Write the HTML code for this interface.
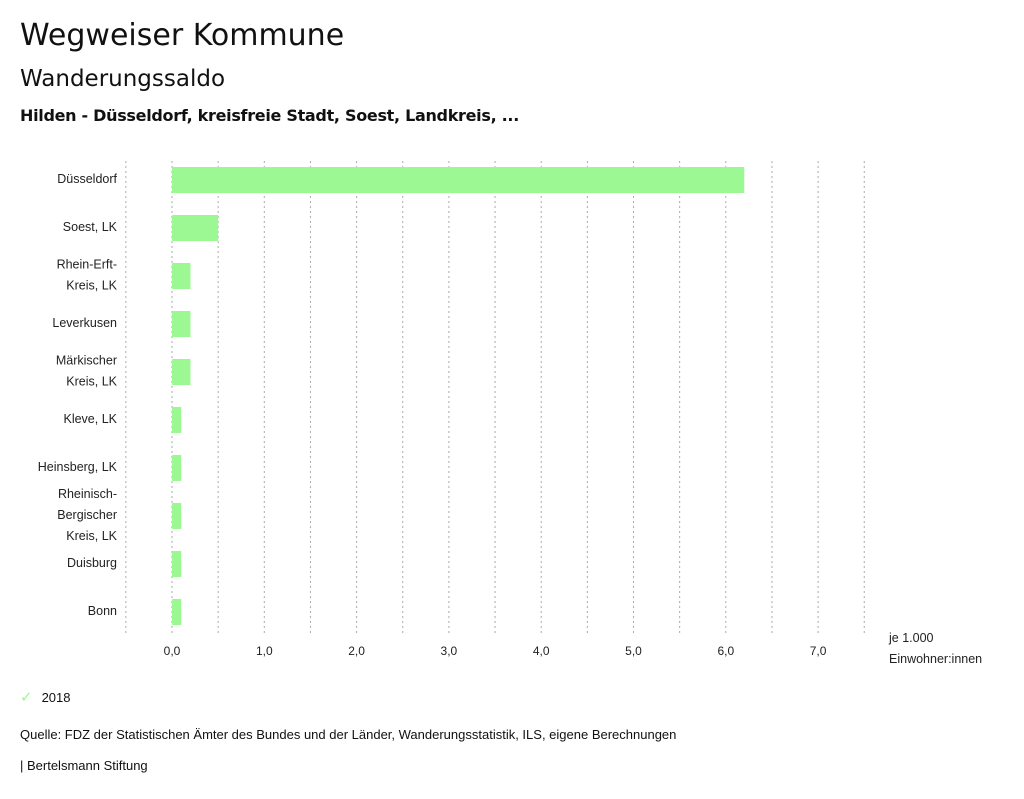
<!DOCTYPE html>
<html><head><meta charset="utf-8"><style>
body{margin:0;width:1024px;height:799px;background:#fff;font-family:"Liberation Sans","DejaVu Sans",sans-serif;color:#111;position:relative;overflow:hidden}
.t{position:absolute;white-space:nowrap}
</style></head><body>
<div class="t" style="left:20px;top:18px;font-size:30px;font-family:'DejaVu Sans',sans-serif">Wegweiser Kommune</div>
<div class="t" style="left:20px;top:66px;font-size:23px;font-family:'DejaVu Sans',sans-serif">Wanderungssaldo</div>
<div class="t" style="left:20px;top:106px;font-size:16px;font-weight:bold;font-family:'DejaVu Sans',sans-serif;letter-spacing:-0.3px">Hilden - Düsseldorf, kreisfreie Stadt, Soest, Landkreis, ...</div>
<svg id="chart" width="1024" height="799" style="position:absolute;left:0;top:0" font-family="Liberation Sans, DejaVu Sans, sans-serif"></svg>
<div class="t" style="left:20px;top:688px;font-size:13px"><span style="color:#9cf893;font-weight:bold;font-size:15px;margin-right:9px">✓</span>2018</div>
<div class="t" style="left:20px;top:727px;font-size:13px">Quelle: FDZ der Statistischen Ämter des Bundes und der Länder, Wanderungsstatistik, ILS, eigene Berechnungen</div>
<div class="t" style="left:20px;top:758px;font-size:13px">| Bertelsmann Stiftung</div>
<script>
const categories=[["Düsseldorf"],["Soest, LK"],["Rhein-Erft-","Kreis, LK"],["Leverkusen"],["Märkischer","Kreis, LK"],["Kleve, LK"],["Heinsberg, LK"],["Rheinisch-","Bergischer","Kreis, LK"],["Duisburg"],["Bonn"]];
const values2018=[6.2,0.5,0.2,0.2,0.2,0.1,0.1,0.1,0.1,0.1];
const ticks=[0,1,2,3,4,5,6,7];
const tickLabels=["0,0","1,0","2,0","3,0","4,0","5,0","6,0","7,0"];
const svg=document.getElementById('chart');
const NS='http://www.w3.org/2000/svg';
const x=v=>172+v*92.3;
const yc=i=>180+i*48;
function mk(t,a){const e=document.createElementNS(NS,t);for(const k in a)e.setAttribute(k,a[k]);svg.appendChild(e);return e;}
for(let g=-0.5;g<=7.5;g+=0.5){
 const l=mk('line',{x1:x(g),x2:x(g),y1:161,y2:636,stroke:'#aaa','stroke-dasharray':'2,3','stroke-width':1});
 
 
}
ticks.forEach((t,i)=>{
 const e=mk('text',{x:x(t),y:655,'text-anchor':'middle','font-size':12,fill:'#222'});
 e.textContent=tickLabels[i];
 
 
});
categories.forEach((c,i)=>{
 const b=mk('rect',{x:x(0),y:yc(i)-13,width:x(values2018[i])-x(0),height:26,fill:'#9cf893'});
 
 
 const n=c.length;
 c.forEach((ln,j)=>{
  const e=mk('text',{x:117,y:yc(i)+3+(j-(n-1)/2)*21,'text-anchor':'end','font-size':12.5,fill:'#222'});
  e.textContent=ln;
  
  
 });
});
[["je 1.000",642],["Einwohner:innen",663]].forEach(([s,yy])=>{
 const e=mk('text',{x:889,y:yy,'font-size':12.5,fill:'#222'});
 e.textContent=s;
 
 
});
</script>
</body></html>
